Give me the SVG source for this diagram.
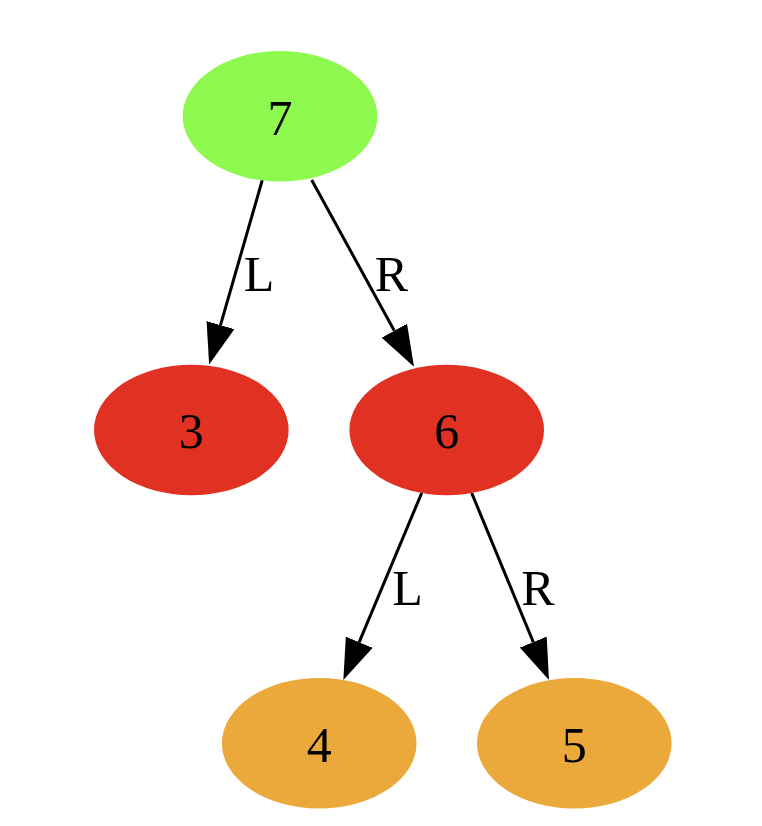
<svg xmlns="http://www.w3.org/2000/svg" width="762" height="826" viewBox="0 0 762 826">
<style>
.lbl{font-family:"Liberation Serif","Times New Roman",serif;font-size:50px;fill:#000;text-anchor:middle}
.edge{stroke:#000;stroke-width:3;fill:none;marker-end:url(#arr)}
.g{fill:#8ef94f}.r{fill:#e03123}.o{fill:#eba83b}
</style>
<defs>
<marker id="arr" markerUnits="userSpaceOnUse" markerWidth="41" markerHeight="29" viewBox="0 0 41 29" refX="0" refY="14.5" orient="auto">
<path d="M0,0 L41,14.5 L0,29 Z" fill="#000"/>
</marker>
</defs>
<rect width="762" height="826" fill="#fff"/>
<g id="edges">
<line class="edge" x1="262.3" y1="180" x2="220.5" y2="325.1"/>
<line class="edge" x1="311.7" y1="180" x2="394.3" y2="330.7"/>
<line class="edge" x1="421.7" y1="493" x2="359.2" y2="642.2"/>
<line class="edge" x1="471.7" y1="493" x2="533.3" y2="642.1"/>
<text class="lbl" x="259" y="291">L</text>
<text class="lbl" x="391.5" y="291">R</text>
<text class="lbl" x="407.5" y="604.5">L</text>
<text class="lbl" x="538" y="604.5">R</text>
</g>
<g id="n7"><ellipse class="g" cx="280" cy="116.3" rx="97.3" ry="65.3"/><text class="lbl" x="280" y="135">7</text></g>
<g id="n3"><ellipse class="r" cx="191.3" cy="430" rx="97.3" ry="65.3"/><text class="lbl" x="191.3" y="448">3</text></g>
<g id="n6"><ellipse class="r" cx="446.7" cy="430" rx="97.3" ry="65.3"/><text class="lbl" x="446.7" y="448">6</text></g>
<g id="n4"><ellipse class="o" cx="319.2" cy="743.2" rx="97.3" ry="65.3"/><text class="lbl" x="319.2" y="762">4</text></g>
<g id="n5"><ellipse class="o" cx="574.3" cy="743.2" rx="97.3" ry="65.3"/><text class="lbl" x="574.3" y="762">5</text></g>
</svg>
